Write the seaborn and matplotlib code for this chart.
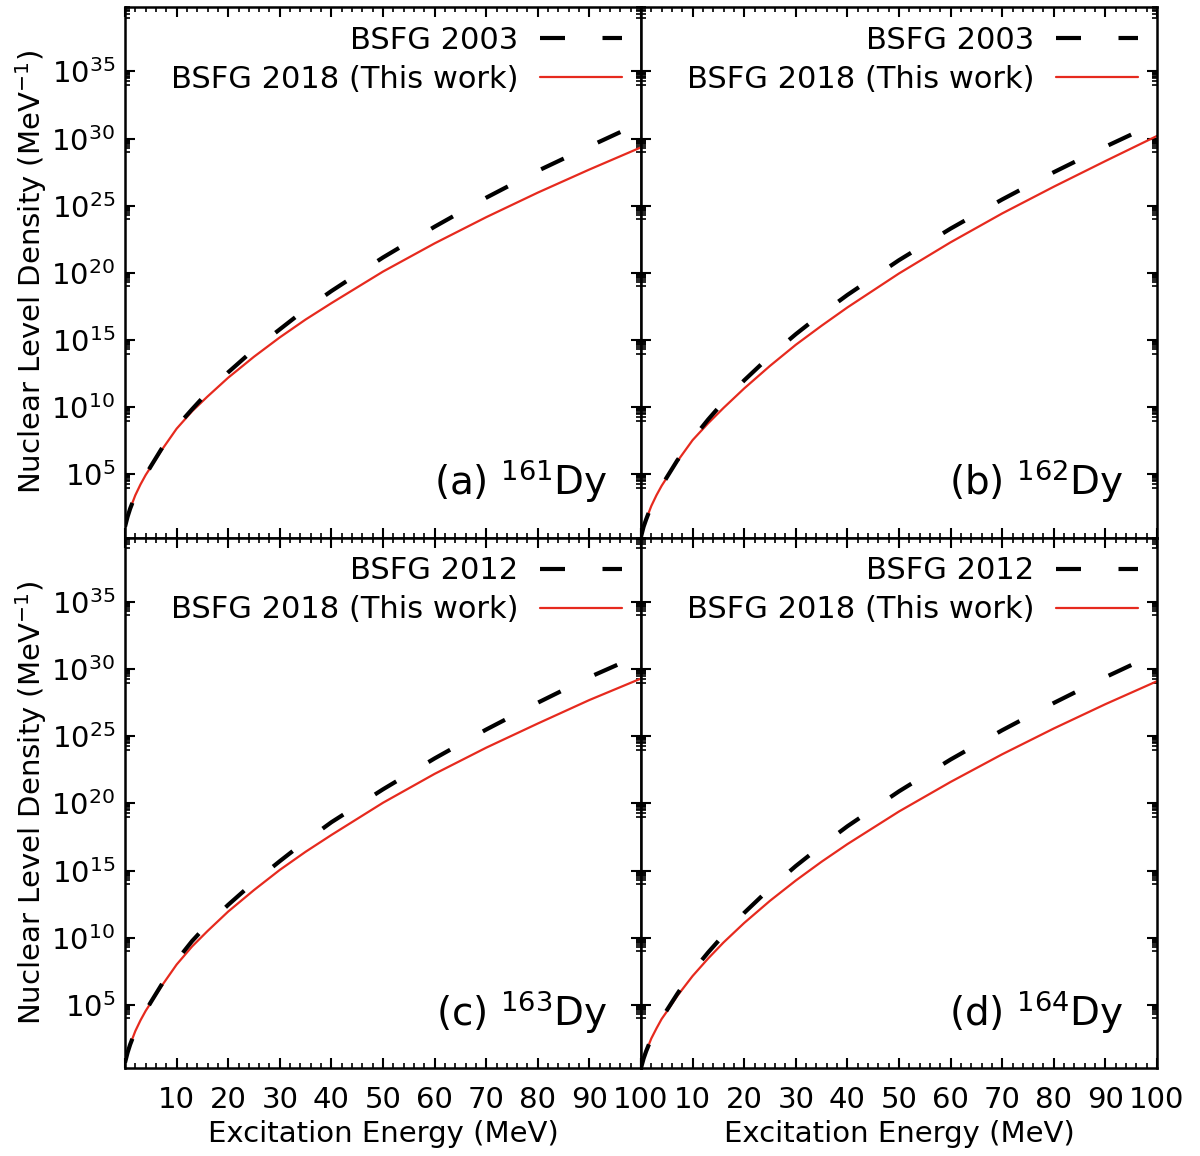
import numpy as np
import pandas as pd
import matplotlib
matplotlib.use('Agg')
import matplotlib.pyplot as plt
import seaborn as sns
from matplotlib.ticker import FixedLocator, FixedFormatter, NullFormatter

# excitation energy grid (MeV)
energy = [0, 0.5, 1, 2, 3, 4, 5, 7, 10, 13, 16, 20, 25, 30, 35, 40, 50, 60, 70, 80, 90, 100]

# log10 of the level density (MeV^-1)
log_rho_2018_161 = [1.1, 1.85, 2.45, 3.45, 4.25, 4.95, 5.55, 6.75, 8.4, 9.7, 10.8, 12.2, 13.76, 15.2,
                    16.53, 17.75, 20.1, 22.2, 24.15, 25.98, 27.7, 29.35]
log_rho_2003_161 = [1.1, 1.85, 2.45, 3.45, 4.25, 4.95, 5.6, 6.85, 8.55, 9.85, 11.1, 12.6, 14.3, 15.8,
                    17.3, 18.65, 21.15, 23.44, 25.6, 27.6, 29.42, 31.2]

log_rho_2018_162 = [0.35, 1.1, 1.65, 2.65, 3.45, 4.15, 4.75, 5.95, 7.55, 8.8, 9.95, 11.4, 13.08, 14.65,
                    16.07, 17.43, 19.96, 22.28, 24.43, 26.42, 28.33, 30.2]
log_rho_2003_162 = [0.35, 1.1, 1.65, 2.65, 3.45, 4.15, 4.78, 6.02, 7.65, 9.08, 10.4, 12.0, 13.81, 15.44,
                    16.95, 18.36, 20.95, 23.3, 25.47, 27.5, 29.4, 31.2]

log_rho_2018_163 = [0.7, 1.45, 2.05, 3.05, 3.85, 4.55, 5.15, 6.35, 8.0, 9.35, 10.5, 11.95, 13.55, 15.05,
                    16.4, 17.65, 20.05, 22.2, 24.15, 25.95, 27.7, 29.3]
log_rho_2012_163 = [0.7, 1.45, 2.05, 3.05, 3.85, 4.55, 5.2, 6.45, 8.3, 9.75, 11.0, 12.45, 14.15, 15.7,
                    17.2, 18.6, 21.05, 23.35, 25.5, 27.5, 29.4, 31.1]

log_rho_2018_164 = [0.3, 1.0, 1.55, 2.5, 3.25, 3.95, 4.5, 5.65, 7.15, 8.45, 9.65, 11.1, 12.75, 14.26,
                    15.66, 16.97, 19.4, 21.6, 23.66, 25.58, 27.39, 29.1]
log_rho_2012_164 = [0.3, 1.0, 1.55, 2.5, 3.3, 4.0, 4.6, 5.8, 7.5, 8.9, 10.2, 11.85, 13.68, 15.34,
                    16.86, 18.3, 20.9, 23.27, 25.45, 27.48, 29.4, 31.2]

panel_tags = ['(a)', '(b)', '(c)', '(d)']
mass_numbers = ['161', '162', '163', '164']
ref_labels = ['BSFG 2003', 'BSFG 2003', 'BSFG 2012', 'BSFG 2012']
this_label = 'BSFG 2018 (This work)'
ref_curves = [log_rho_2003_161, log_rho_2003_162, log_rho_2012_163, log_rho_2012_164]
new_curves = [log_rho_2018_161, log_rho_2018_162, log_rho_2018_163, log_rho_2018_164]

xtick_values = [0, 10, 20, 30, 40, 50, 60, 70, 80, 90, 100]
xtick_labels = ['', '10', '20', '30', '40', '50', '60', '70', '80', '90', '100']
ytick_exponents = [5, 10, 15, 20, 25, 30, 35]

sns.set_theme(style='ticks')
plt.rcParams['font.family'] = ['DejaVu Sans']
plt.rcParams['mathtext.fontset'] = 'dejavusans'
plt.rcParams.update({
    'axes.linewidth': 1.8,
    'axes.edgecolor': 'black',
    'xtick.direction': 'in', 'ytick.direction': 'in',
    'xtick.top': True, 'ytick.right': True,
    'xtick.major.size': 7, 'ytick.major.size': 7,
    'xtick.minor.size': 3.5, 'ytick.minor.size': 3.5,
    'xtick.major.width': 1.5, 'ytick.major.width': 1.5,
    'xtick.minor.width': 1.2, 'ytick.minor.width': 1.2,
    'xtick.color': 'black', 'ytick.color': 'black',
    'text.color': 'black', 'axes.labelcolor': 'black',
})

fig, axes = plt.subplots(2, 2, figsize=(12, 11.56), dpi=100)
fig.subplots_adjust(left=125/1200, right=1157/1200, top=1-7/1156, bottom=1-1068/1156,
                    wspace=0, hspace=0)

fs = 21
ylo, yhi = 10**0.3, 10**39.8
yminor = [k * 10.0**(n - 1) for n in ytick_exponents + [40] for k in range(1, 10)]

for i, ax in enumerate(axes.flat):
    df = pd.DataFrame({'E': energy,
                       'ref': np.power(10.0, ref_curves[i]),
                       'new': np.power(10.0, new_curves[i])})
    sns.lineplot(data=df, x='E', y='new', ax=ax, color='#e62a1e', linewidth=1.6, zorder=2)
    sns.lineplot(data=df, x='E', y='ref', ax=ax, color='black', linewidth=3,
                 linestyle=(0, (6, 9)), zorder=3)
    ax.set_yscale('log')
    ax.set_xlim(0, 100)
    ax.set_ylim(ylo, yhi)

    ax.xaxis.set_major_locator(FixedLocator(xtick_values))
    ax.xaxis.set_major_formatter(FixedFormatter(xtick_labels))
    ax.xaxis.set_minor_locator(FixedLocator(np.arange(0, 101, 2)))
    ax.yaxis.set_major_locator(FixedLocator([10.0**n for n in ytick_exponents]))
    ax.yaxis.set_major_formatter(FixedFormatter([r'$10^{%d}$' % n for n in ytick_exponents]))
    ax.yaxis.set_minor_locator(FixedLocator(yminor))
    ax.yaxis.set_minor_formatter(NullFormatter())
    ax.tick_params(axis='both', which='major', labelsize=fs)
    ax.tick_params(axis='x', pad=13)
    ax.tick_params(axis='y', pad=7)

    row, col = divmod(i, 2)
    if row == 0:
        ax.tick_params(labelbottom=False)
        ax.set_xlabel('')
    else:
        ax.set_xlabel('Excitation Energy (MeV)', fontsize=fs, labelpad=4)
    if col == 1:
        ax.tick_params(labelleft=False)
        ax.set_ylabel('')
    else:
        ax.set_ylabel(r'Nuclear Level Density (MeV$^{-1}$)', fontsize=fs, labelpad=2)

    lines = ax.get_lines()
    ax.legend([lines[1], lines[0]], [ref_labels[i], this_label], loc='upper right',
              frameon=False, markerfirst=False, fontsize=22, handlelength=2.7,
              handletextpad=0.7, labelspacing=0.32, borderpad=0, borderaxespad=0.62)

    ax.text(0.935, 0.08, r'%s $^{%s}$Dy' % (panel_tags[i], mass_numbers[i]),
            transform=ax.transAxes, ha='right', va='baseline', fontsize=28)

fig.savefig('out.png', dpi=100)
